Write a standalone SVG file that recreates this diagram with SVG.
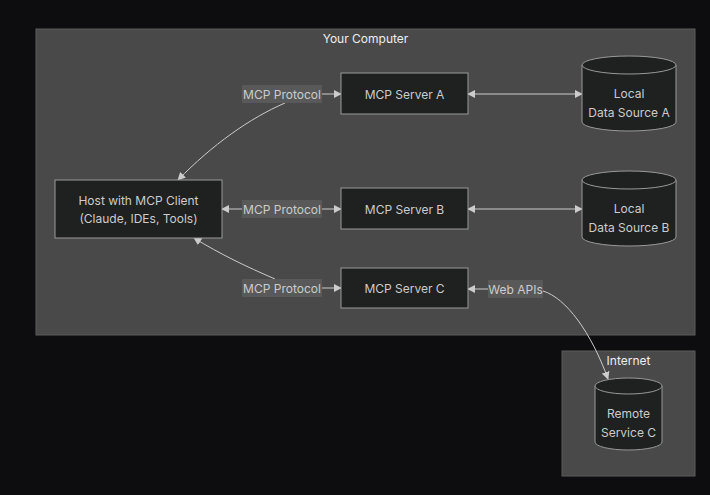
<svg xmlns="http://www.w3.org/2000/svg" width="710" height="495" viewBox="0 0 710 495">
<defs>
<style>
text{font-family:Inter,"Noto Sans","DejaVu Sans",sans-serif;font-size:12px;fill:#cccccc;text-anchor:middle;dominant-baseline:central}
.cluster{fill:#484948;stroke:#5c5c5c;stroke-width:1}
.title{fill:#eeeeee}
.node{fill:#1f2020;stroke:#999999;stroke-width:1}
.edge{fill:none;stroke:#cccccc;stroke-width:1}
.lbl{fill:#595959}
</style>
<marker id="ah" viewBox="0 0 10 10" refX="9" refY="5" markerWidth="8" markerHeight="8" orient="auto-start-reverse" markerUnits="userSpaceOnUse">
<path d="M0,0 L10,5 L0,10 z" fill="#cccccc"/>
</marker>
</defs>
<rect width="710" height="495" fill="#0d0d0f"/>
<g id="cluster-computer">
<rect class="cluster" x="36" y="29" width="659" height="306"/>
<text class="title" x="365.5" y="38.5">Your Computer</text>
</g>
<g id="cluster-internet">
<rect class="cluster" x="562" y="351" width="133" height="125"/>
<text class="title" x="628.5" y="360">Internet</text>
</g>
<g id="connectors">
<path class="edge" d="M285,103 C250,118 212,145 178,180" marker-end="url(#ah)"/>
<path class="edge" d="M322,94 L341,94" marker-end="url(#ah)"/>
<path class="edge" d="M222,209 L242,209" marker-start="url(#ah)"/>
<path class="edge" d="M322,209 L341,209" marker-end="url(#ah)"/>
<path class="edge" d="M275,279 C245,266 220,254 194,238" marker-end="url(#ah)"/>
<path class="edge" d="M322,288 L341,288" marker-end="url(#ah)"/>
<path class="edge" d="M468,94 L582,94" marker-start="url(#ah)" marker-end="url(#ah)"/>
<path class="edge" d="M468,209 L582,209" marker-start="url(#ah)" marker-end="url(#ah)"/>
<path class="edge" d="M468,289 L488,289" marker-start="url(#ah)"/>
<path class="edge" d="M543,291 C566,298 591,332 608,379" marker-end="url(#ah)"/>
<g id="label-a"><rect class="lbl" x="242" y="85" width="80" height="18"/><text x="282" y="94">MCP Protocol</text></g>
<g id="label-b"><rect class="lbl" x="242" y="200" width="80" height="18"/><text x="282" y="209">MCP Protocol</text></g>
<g id="label-c"><rect class="lbl" x="242" y="279" width="80" height="18"/><text x="282" y="288">MCP Protocol</text></g>
<g id="label-web"><rect class="lbl" x="488" y="280" width="55" height="18"/><text x="515.5" y="289">Web APIs</text></g>
</g>
<g id="host">
<rect class="node" x="55" y="180" width="167" height="58"/>
<text x="138.5" y="200">Host with MCP Client</text>
<text x="138.5" y="218">(Claude, IDEs, Tools)</text>
</g>
<g id="server-a">
<rect class="node" x="341" y="73" width="127" height="41"/>
<text x="404.5" y="94">MCP Server A</text>
</g>
<g id="server-b">
<rect class="node" x="341" y="188" width="127" height="41"/>
<text x="404.5" y="209">MCP Server B</text>
</g>
<g id="server-c">
<rect class="node" x="341" y="268" width="127" height="40"/>
<text x="404.5" y="288">MCP Server C</text>
</g>
<g id="data-a">
<path class="node" d="M582,65 A47,9 0 0 1 676,65 L676,122 A47,9 0 0 1 582,122 Z"/>
<path class="node" fill="none" d="M582,65 A47,9 0 0 0 676,65"/>
<text x="629" y="93">Local</text>
<text x="629" y="112">Data Source A</text>
</g>
<g id="data-b">
<path class="node" d="M582,180 A47,9 0 0 1 676,180 L676,237 A47,9 0 0 1 582,237 Z"/>
<path class="node" fill="none" d="M582,180 A47,9 0 0 0 676,180"/>
<text x="629" y="208">Local</text>
<text x="629" y="227">Data Source B</text>
</g>
<g id="remote-c">
<path class="node" d="M595,386 A33.5,8 0 0 1 662,386 L662,442 A33.5,8 0 0 1 595,442 Z"/>
<path class="node" fill="none" d="M595,386 A33.5,8 0 0 0 662,386"/>
<text x="628.5" y="413">Remote</text>
<text x="628.5" y="432">Service C</text>
</g>
</svg>
